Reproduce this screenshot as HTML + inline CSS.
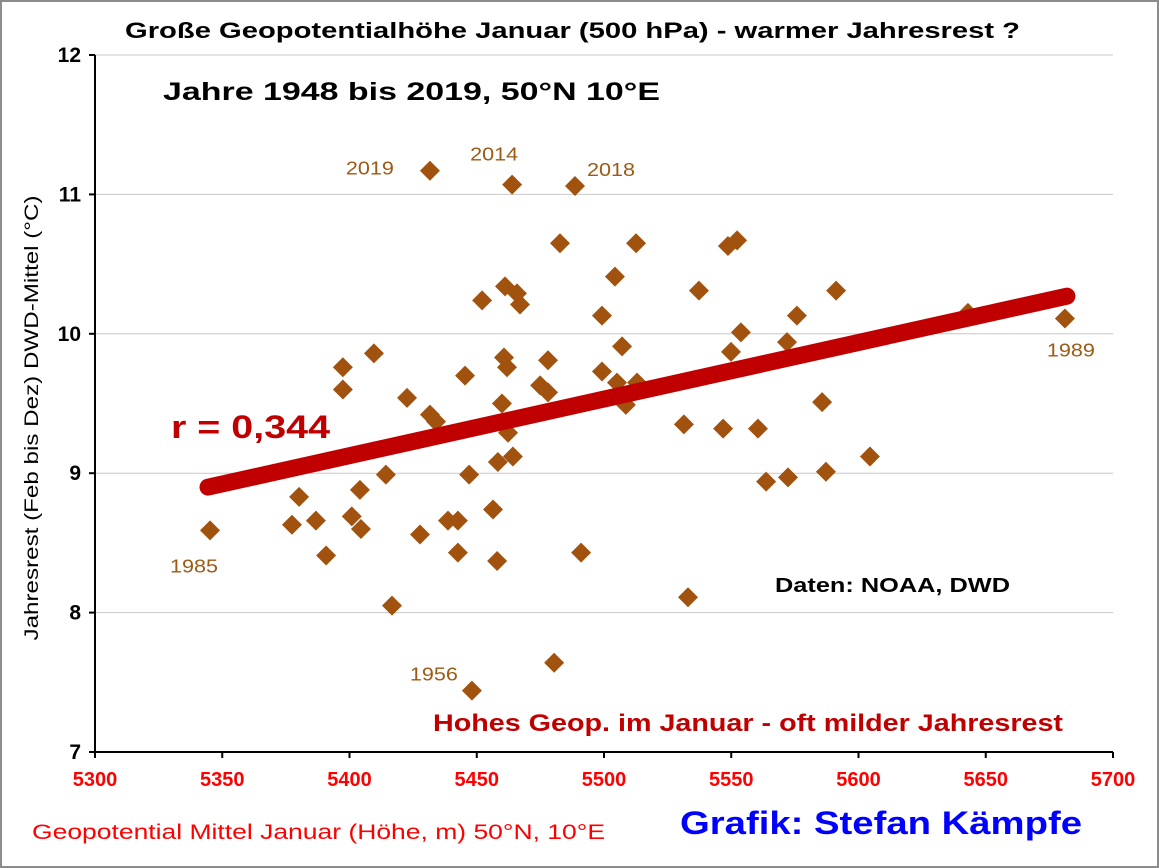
<!DOCTYPE html>
<html><head><meta charset="utf-8"><style>
body{margin:0;background:#fff}
svg{display:block;font-family:"Liberation Sans",sans-serif}
</style></head><body>
<svg id="c" width="1159" height="868">
<rect x="1" y="1" width="1157" height="866" fill="#fff" stroke="#8c8c8c" stroke-width="2"/>
<text x="125" y="38" font-size="22" font-weight="bold" textLength="895" lengthAdjust="spacingAndGlyphs">Große Geopotentialhöhe Januar (500 hPa) - warmer Jahresrest ?</text>
<g id="grid"></g><g id="axes"></g><g id="pts"></g>
<text x="163" y="100" font-size="25" font-weight="bold" textLength="497" lengthAdjust="spacingAndGlyphs">Jahre 1948 bis 2019, 50°N 10°E</text>
<text x="171" y="438" font-size="32" font-weight="bold" fill="#c00000" textLength="159" lengthAdjust="spacingAndGlyphs">r = 0,344</text>
<text x="775" y="592" font-size="20" font-weight="bold" textLength="235" lengthAdjust="spacingAndGlyphs">Daten: NOAA, DWD</text>
<text x="433" y="731" font-size="24" font-weight="bold" fill="#c00000" textLength="630" lengthAdjust="spacingAndGlyphs">Hohes Geop. im Januar - oft milder Jahresrest</text>
<text x="32" y="839" font-size="21" fill="#ff0000" textLength="573" lengthAdjust="spacingAndGlyphs">Geopotential Mittel Januar (Höhe, m) 50°N, 10°E</text>
<text x="680" y="834" font-size="32" font-weight="bold" fill="#0000ff" textLength="402" lengthAdjust="spacingAndGlyphs">Grafik: Stefan Kämpfe</text>
<text transform="translate(38,418) rotate(-90)" text-anchor="middle" font-size="19" textLength="445" lengthAdjust="spacingAndGlyphs">Jahresrest (Feb bis Dez) DWD-Mittel (°C)</text>
</svg>
<script>
const xVals=[5345.2,5377.4,5380.2,5386.8,5390.8,5397.4,5397.4,5400.9,5404.5,5404.1,5409.6,5414.3,5416.7,5422.6,5427.7,5431.6,5431.6,5434.0,5438.7,5442.6,5442.6,5445.4,5447.0,5448.1,5452.1,5456.4,5458.0,5458.3,5459.9,5460.7,5461.1,5461.9,5462.3,5463.9,5464.2,5465.8,5467.0,5474.9,5478.0,5478.0,5480.4,5482.7,5488.6,5491.0,5499.2,5499.2,5504.3,5505.1,5507.1,5508.6,5512.6,5513.0,5531.4,5533.0,5537.3,5546.8,5548.7,5549.9,5552.3,5553.8,5560.5,5563.7,5571.9,5572.3,5575.8,5585.7,5587.2,5591.2,5604.5,5643.0,5681.1];
const yVals=[8.59,8.63,8.83,8.66,8.41,9.60,9.76,8.69,8.60,8.88,9.86,8.99,8.05,9.54,8.56,11.17,9.42,9.37,8.66,8.66,8.43,9.70,8.99,7.44,10.24,8.74,8.37,9.08,9.50,9.83,10.34,9.76,9.29,11.07,9.12,10.29,10.21,9.63,9.81,9.58,7.64,10.65,11.06,8.43,10.13,9.73,10.41,9.65,9.91,9.49,10.65,9.65,9.35,8.11,10.31,9.32,10.63,9.87,10.67,10.01,9.32,8.94,9.94,8.97,10.13,9.51,9.01,10.31,9.12,10.15,10.11];
const yearLabels=["1985","2019","2014","2018","1956","1989"];
const yearX=[5345.2,5431.6,5463.9,5488.6,5448.1,5681.1];
const yearY=[8.59,11.17,11.07,11.06,7.44,10.11];
const yearDx=[-40,-84,-42,12,-62,-18];
const yearDy=[42,4,-24,-10,-10,38];
const trendX=[5344.4,5681.9];
const trendY=[8.90,10.27];
const xTicks=[5300,5350,5400,5450,5500,5550,5600,5650,5700];
const yTicks=[7,8,9,10,11,12];
const L=95,R=1113,T=55,B=752;
const sx=v=>L+(v-5300)/400*(R-L);
const sy=v=>B-(v-7)/5*(B-T);
const NS="http://www.w3.org/2000/svg";
function mk(p,tag,a){const e=document.createElementNS(NS,tag);for(const k in a)e.setAttribute(k,a[k]);p.appendChild(e);return e;}
const grid=document.getElementById('grid'),axes=document.getElementById('axes'),pts=document.getElementById('pts');
yTicks.forEach(t=>{
 if(t>7){const g=mk(grid,'line',{x1:L,x2:R,y1:sy(t),y2:sy(t),stroke:'#c8c8c8','stroke-width':1});
 
 }
 const tk=mk(axes,'line',{x1:L-6,x2:L,y1:sy(t),y2:sy(t),stroke:'#000','stroke-width':2});
 
 
 const tx=mk(axes,'text',{x:L-14,y:sy(t)+7,'text-anchor':'end','font-size':21,'font-weight':'bold'});
 tx.textContent=t;
 
 
});
xTicks.forEach(t=>{
 const tk=mk(axes,'line',{x1:sx(t),x2:sx(t),y1:B,y2:B+6,stroke:'#000','stroke-width':2});
 
 
 const tx=mk(axes,'text',{x:sx(t),y:B+34,'text-anchor':'middle','font-size':20,'font-weight':'bold',fill:'#ff0000'});
 tx.textContent=t;
 
 
});
const ya=mk(axes,'line',{x1:L,x2:L,y1:T,y2:B,stroke:'#000','stroke-width':2});


const xa=mk(axes,'line',{x1:L,x2:R,y1:B,y2:B,stroke:'#000','stroke-width':2});


xVals.forEach((v,i)=>{
 const x=sx(v),y=sy(yVals[i]),r=10;
 const p=mk(pts,'polygon',{points:`${x},${y-r} ${x+r},${y} ${x},${y+r} ${x-r},${y}`,fill:'#a0520e'});
 
 
});
const tl=mk(pts,'line',{x1:sx(trendX[0]),y1:sy(trendY[0]),x2:sx(trendX[1]),y2:sy(trendY[1]),stroke:'#c00000','stroke-width':17,'stroke-linecap':'round'});


yearLabels.forEach((s,i)=>{
 const t=mk(pts,'text',{x:sx(yearX[i])+yearDx[i],y:sy(yearY[i])+yearDy[i],'font-size':18,fill:'#9c5a14',textLength:48,lengthAdjust:'spacingAndGlyphs'});
 t.textContent=s;
 
 
});
</script>
</body></html>
